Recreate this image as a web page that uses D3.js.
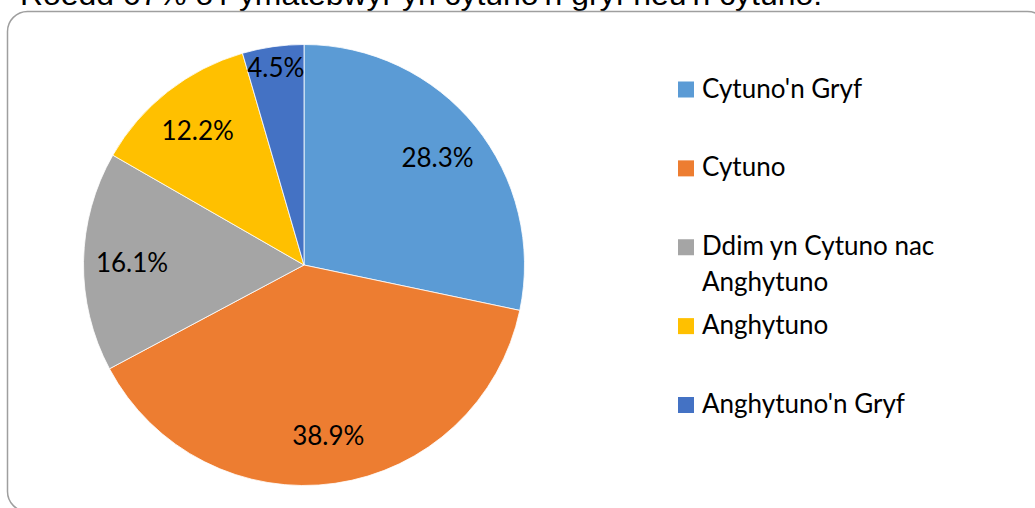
<!DOCTYPE html>
<html lang="cy">
<head>
  <meta charset="UTF-8">
  <title>Cytuno</title>
  <style>
    body {
      margin: 0;
      background: #fff;
      overflow: hidden;
    }
    svg {
      display: block;
    }
    .title {
      font-family: 'Liberation Sans', Arial, sans-serif;
      font-size: 29px;
      fill: #000;
    }
    .lbl {
      font-family: Lato, 'Open Sans', sans-serif;
      font-size: 26px;
      fill: #000;
      text-anchor: middle;
      dominant-baseline: central;
    }
    .legend text {
      font-family: Lato, 'Open Sans', sans-serif;
      font-size: 26px;
      fill: #000;
    }
  </style>
</head>
<body>
  <svg width="1035" height="508"></svg>

  <script src="https://d3js.org/d3.v7.min.js"></script>
  <script>
    // data
    var categories = ["Cytuno'n Gryf", "Cytuno", "Ddim yn Cytuno nac Anghytuno", "Anghytuno", "Anghytuno'n Gryf"];
    var legendLines = [["Cytuno'n Gryf"], ["Cytuno"], ["Ddim yn Cytuno nac", "Anghytuno"], ["Anghytuno"], ["Anghytuno'n Gryf"]];
    var values = [28.3, 38.9, 16.1, 12.2, 4.5];
    var colours = ["#5B9BD5", "#ED7D31", "#A5A5A5", "#FFC000", "#4472C4"];
    var title = "Roedd 67% o'r ymatebwyr yn cytuno'n gryf neu'n cytuno.";

    var svg = d3.select("svg");

    // title, cut off at the top like the original
    svg.append("text")
      .attr("class", "title")
      .attr("x", 20)
      .attr("y", 5)
      .attr("textLength", 802)
      .attr("lengthAdjust", "spacingAndGlyphs")
      .text(title);

    // chart frame
    svg.append("rect")
      .attr("x", 7.5)
      .attr("y", 11.5)
      .attr("width", 1040)
      .attr("height", 500)
      .attr("rx", 20)
      .attr("fill", "none")
      .attr("stroke", "#9f9f9f")
      .attr("stroke-width", 1.5);

    var cx = 304, cy = 265, R = 220.5;

    var pie = d3.pie().sort(null).value(function(d) { return d; });
    var arcs = pie(values);
    var arc = d3.arc().innerRadius(0).outerRadius(R);

    var color = d3.scaleOrdinal().domain(categories).range(colours);

    var g = svg.append("g").attr("transform", "translate(" + cx + "," + cy + ")");

    g.selectAll("path")
      .data(arcs)
      .enter()
      .append("path")
      .attr("d", arc)
      .attr("fill", function(d, i) { return color(categories[i]); })
      .attr("stroke", "#fff")
      .attr("stroke-width", 0.8);

    // labels sit at ~78% of radius; thin slices get pushed out
    g.selectAll("text")
      .data(arcs)
      .enter()
      .append("text")
      .attr("class", "lbl")
      .attr("transform", function(d) {
        var r = (d.endAngle - d.startAngle) < 0.4 ? 200 : 172;
        var a = (d.startAngle + d.endAngle) / 2;
        return "translate(" + (Math.sin(a) * r) + "," + (-Math.cos(a) * r) + ")";
      })
      .text(function(d) { return d.data.toFixed(1) + "%"; });

    // legend
    var ly = d3.scalePoint().domain(categories).range([97.5, 413]);

    var leg = svg.append("g").attr("class", "legend")
      .selectAll("g")
      .data(categories)
      .enter()
      .append("g")
      .attr("transform", function(d) { return "translate(678," + ly(d) + ")"; });

    leg.append("rect")
      .attr("x", 0)
      .attr("y", -16)
      .attr("width", 16)
      .attr("height", 16)
      .attr("fill", function(d) { return color(d); });

    leg.append("text")
      .attr("x", 24)
      .attr("y", 0)
      .selectAll("tspan")
      .data(function(d, i) { return legendLines[i]; })
      .enter()
      .append("tspan")
      .attr("x", 24)
      .attr("dy", function(d, j) { return j === 0 ? 0 : 36; })
      .text(function(d) { return d; });
  </script>
</body>
</html>
